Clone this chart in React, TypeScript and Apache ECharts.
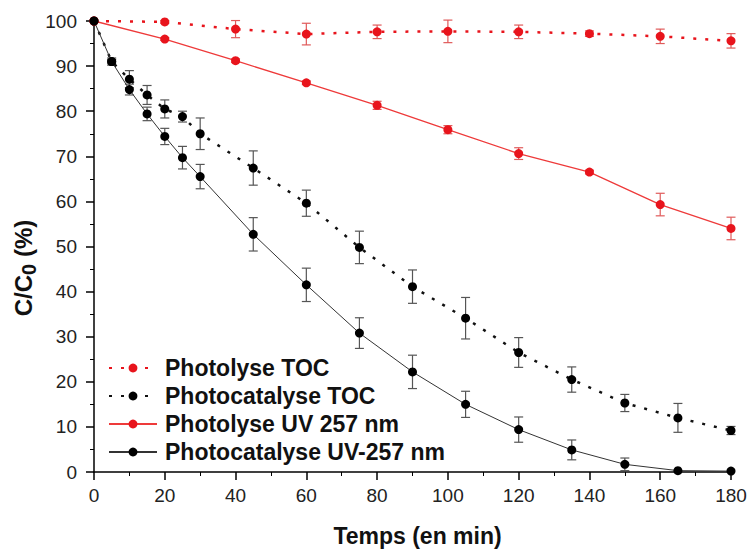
import React, { useEffect, useRef } from "react";
import * as echarts from "echarts";

const timesA = [0, 20, 40, 60, 80, 100, 120, 140, 160, 180];
const photolyseTOC = [100, 99.8, 98.2, 97.1, 97.6, 97.7, 97.6, 97.2, 96.6, 95.6];
const photolyseTOCErr = [0, 0.3, 1.9, 2.4, 1.5, 2.5, 1.5, 0.6, 1.6, 1.6];
const photolyseUV = [100, 96.0, 91.2, 86.3, 81.3, 75.9, 70.6, 66.5, 59.3, 54.0];
const photolyseUVErr = [0, 0.3, 0.4, 0.4, 0.9, 0.9, 1.3, 0.4, 2.5, 2.5];

const timesB = [0, 5, 10, 15, 20, 25, 30, 45, 60, 75, 90, 105, 120, 135, 150, 165, 180];
const photocatTOC = [100, 91.0, 87.1, 83.6, 80.5, 78.8, 75.0, 67.4, 59.6, 49.8, 41.1, 34.1, 26.5, 20.5, 15.3, 12.0, 9.2];
const photocatTOCErr = [0, 0.8, 1.9, 2.1, 2.0, 1.2, 3.5, 3.8, 2.9, 3.6, 3.7, 4.6, 3.3, 2.8, 1.9, 3.2, 0.9];
const photocatUV = [100, 91.0, 84.8, 79.4, 74.4, 69.7, 65.5, 52.7, 41.5, 30.8, 22.2, 15.0, 9.4, 4.9, 1.7, 0.3, 0.2];
const photocatUVErr = [0, 0.5, 1.2, 1.5, 1.8, 2.5, 2.7, 3.7, 3.7, 3.4, 3.7, 2.9, 2.8, 2.2, 1.4, 0, 0];

const seriesNames = [
  "Photolyse TOC",
  "Photocatalyse TOC",
  "Photolyse UV 257 nm",
  "Photocatalyse UV-257 nm",
];

const RED = "#e8141c";
const BLACK = "#000000";

function pairs(xs: number[], ys: number[]) {
  return xs.map((x, i) => [x, ys[i]]);
}
function errs(xs: number[], ys: number[], es: number[]) {
  return xs.map((x, i) => [x, ys[i] - es[i], ys[i] + es[i]]).filter((d, i) => es[i] > 0);
}

function errorSeries(data: number[][], color: string) {
  return {
    type: "custom",
    data,
    encode: { x: 0, y: [1, 2] },
    z: 1,
    silent: true,
    renderItem: (params: any, api: any) => {
      const x = api.value(0);
      const lo = api.coord([x, api.value(1)]);
      const hi = api.coord([x, api.value(2)]);
      const w = 4.5;
      const style = { stroke: color, lineWidth: 1.2, fill: "none" };
      return {
        type: "group",
        children: [
          { type: "line", shape: { x1: lo[0], y1: lo[1], x2: hi[0], y2: hi[1] }, style },
          { type: "line", shape: { x1: lo[0] - w, y1: lo[1], x2: lo[0] + w, y2: lo[1] }, style },
          { type: "line", shape: { x1: hi[0] - w, y1: hi[1], x2: hi[0] + w, y2: hi[1] }, style },
        ],
      };
    },
  };
}

export default function App() {
  const ref = useRef<HTMLDivElement>(null);
  useEffect(() => {
    if (!ref.current) return;
    const chart = echarts.init(ref.current, null, { renderer: "svg" });
    const labelFont = "'Liberation Sans Narrow', 'Liberation Sans', Arial, sans-serif";
    const boldFont = "'Liberation Sans', Arial, sans-serif";
    chart.setOption({
      animation: false,
      backgroundColor: "#ffffff",
      grid: { left: 94, right: 19, top: 21, bottom: 78, containLabel: false },
      legend: {
        data: seriesNames,
        orient: "vertical",
        left: 103,
        top: 349,
        itemGap: 0,
        itemWidth: 48,
        itemHeight: 11,
        textStyle: {
          fontFamily: boldFont,
          fontWeight: "bold",
          fontSize: 23,
          color: "#111",
          lineHeight: 28,
          padding: [0, 0, 0, 3],
        },
      },
      xAxis: {
        type: "value",
        min: 0,
        max: 180,
        interval: 20,
        axisLine: { show: true, lineStyle: { color: "#000", width: 1.5 } },
        axisTick: { show: true, length: 8, inside: false, lineStyle: { color: "#000", width: 1.5 } },
        minorTick: { show: true, splitNumber: 2, length: 4, lineStyle: { color: "#000", width: 1 } },
        splitLine: { show: false },
        axisLabel: { fontFamily: labelFont, fontSize: 19, color: "#222", margin: 14 },
        name: "Temps (en min)",
        nameLocation: "middle",
        nameGap: 52,
        nameTextStyle: { fontFamily: boldFont, fontWeight: "bold", fontSize: 23, color: "#111", padding: [0, 0, 0, 10] },
      },
      yAxis: {
        type: "value",
        min: 0,
        max: 100,
        interval: 10,
        axisLine: { show: true, lineStyle: { color: "#000", width: 1.5 } },
        axisTick: { show: true, length: 8, inside: false, lineStyle: { color: "#000", width: 1.5 } },
        minorTick: { show: true, splitNumber: 2, length: 4, lineStyle: { color: "#000", width: 1 } },
        splitLine: { show: false },
        axisLabel: { fontFamily: labelFont, fontSize: 19, color: "#222", margin: 17 },
      },
      graphic: [
        {
          type: "text",
          x: 23,
          y: 268,
          rotation: Math.PI / 2,
          style: {
            text: "{a|C/C}{b|0}{a| (%)}",
            align: "center",
            verticalAlign: "middle",
            fill: "#111",
            rich: {
              a: { fontFamily: boldFont, fontWeight: "bold", fontSize: 24, fill: "#111" },
              b: { fontFamily: boldFont, fontWeight: "bold", fontSize: 20, fill: "#111", padding: [12, 0, 0, 0] },
            },
          },
        },
      ],
      series: [
        errorSeries(errs(timesA, photolyseTOC, photolyseTOCErr), "#e05a5a"),
        errorSeries(errs(timesA, photolyseUV, photolyseUVErr), "#e05a5a"),
        errorSeries(errs(timesB, photocatTOC, photocatTOCErr), "#555555"),
        errorSeries(errs(timesB, photocatUV, photocatUVErr), "#555555"),
        {
          name: seriesNames[0],
          type: "line",
          data: pairs(timesA, photolyseTOC),
          z: 3,
          symbol: "circle",
          symbolSize: 9,
          itemStyle: { color: RED },
          lineStyle: { color: RED, width: 2.5, type: [3, 9] },
        },
        {
          name: seriesNames[1],
          type: "line",
          data: pairs(timesB, photocatTOC),
          z: 3,
          symbol: "circle",
          symbolSize: 9,
          itemStyle: { color: BLACK },
          lineStyle: { color: "#111", width: 2.5, type: [3, 9] },
        },
        {
          name: seriesNames[2],
          type: "line",
          data: pairs(timesA, photolyseUV),
          z: 3,
          symbol: "circle",
          symbolSize: 9,
          itemStyle: { color: RED },
          lineStyle: { color: "#ee3a3a", width: 1.3, type: "solid" },
        },
        {
          name: seriesNames[3],
          type: "line",
          data: pairs(timesB, photocatUV),
          z: 3,
          symbol: "circle",
          symbolSize: 9,
          itemStyle: { color: BLACK },
          lineStyle: { color: "#333", width: 1, type: "solid" },
        },
      ],
    });
    return () => chart.dispose();
  }, []);
  return <div ref={ref} style={{ width: 750, height: 552, position: "absolute", left: 0, top: 0 }} />;
}
